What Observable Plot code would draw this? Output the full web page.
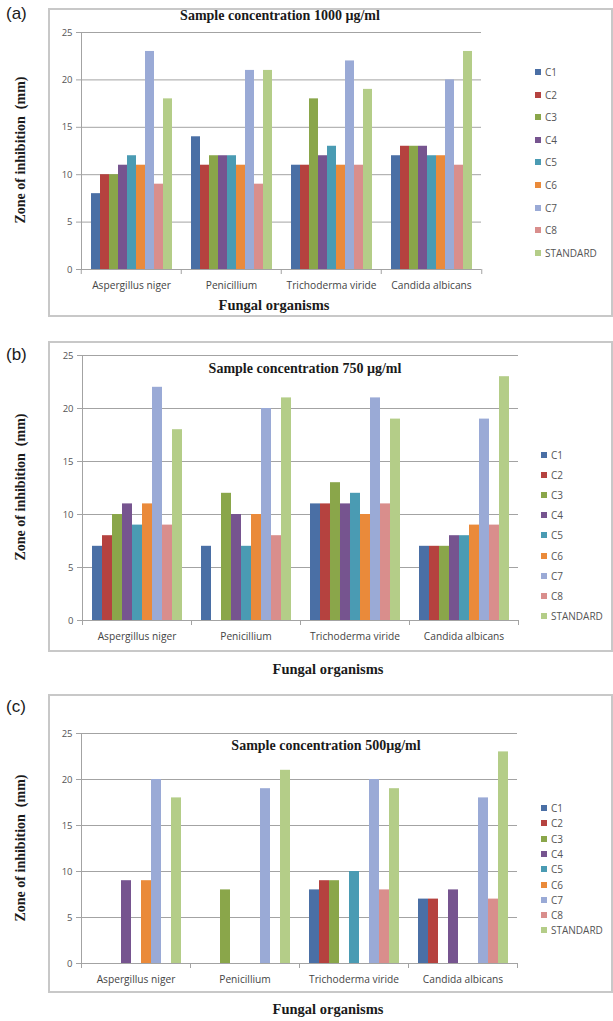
<!DOCTYPE html>
<html><head><meta charset="utf-8">
<script src="https://cdn.jsdelivr.net/npm/d3@7"></script>
<script src="https://cdn.jsdelivr.net/npm/@observablehq/plot@0.6"></script>
<style>
html,body{margin:0;padding:0;background:#fff}
body{width:613px;height:1021px;position:relative;overflow:hidden}
.box{position:absolute;border:2px solid #c8c8c8;box-sizing:border-box}
.plot{position:absolute;left:0}
.plabel{position:absolute;font-family:"Liberation Sans",Arial,sans-serif;font-size:17px;color:#1a1a1a;transform:translate(0,-50%)}
.title{position:absolute;font-family:"Liberation Serif",serif;font-weight:bold;font-size:14px;color:#1a1a1a;white-space:nowrap;transform:translate(-50%,-50%)}
.xtitle{position:absolute;font-family:"Liberation Serif",serif;font-weight:bold;font-size:14.5px;color:#1a1a1a;white-space:nowrap;transform:translate(-50%,-50%)}
.ytitle{position:absolute;font-family:"Liberation Serif",serif;font-weight:bold;font-size:14px;color:#1a1a1a;white-space:pre;transform:translate(-50%,-50%) rotate(-90deg)}
.leg{position:absolute;font-family:"Open Sans",sans-serif;font-size:10px;color:#555;white-space:nowrap;transform:translate(0,-50%);display:flex;align-items:center}
.sw{display:inline-block;width:6px;height:6px;margin-right:4px}
</style></head>
<body>
<script>
const organisms = ["Aspergillus niger", "Penicillium", "Trichoderma viride", "Candida albicans"];
const compounds = ["C1", "C2", "C3", "C4", "C5", "C6", "C7", "C8", "STANDARD"];
const colors = ["#4a6fa5", "#b5423f", "#8aa64a", "#76548f", "#4a9bb3", "#ea8a3a", "#9aaad6", "#d98e8c", "#b4cd88"];
const yTicks = [0, 5, 10, 15, 20, 25];

// Zone of inhibition (mm), rows = organisms, columns = compounds (null = no bar)
const zone1000 = [
  [8, 10, 10, 11, 12, 11, 23, 9, 18],
  [14, 11, 12, 12, 12, 11, 21, 9, 21],
  [11, 11, 18, 12, 13, 11, 22, 11, 19],
  [12, 13, 13, 13, 12, 12, 20, 11, 23]
];
const zone750 = [
  [7, 8, 10, 11, 9, 11, 22, 9, 18],
  [7, null, 12, 10, 7, 10, 20, 8, 21],
  [11, 11, 13, 11, 12, 10, 21, 11, 19],
  [7, 7, 7, 8, 8, 9, 19, 9, 23]
];
const zone500 = [
  [null, null, null, 9, null, 9, 20, null, 18],
  [null, null, 8, null, null, null, 19, null, 21],
  [8, 9, 9, null, 10, null, 20, 8, 19],
  [7, 7, null, 8, null, null, 18, 7, 23]
];

const panels = [
  {label: "(a)", labelY: 14, title: "Sample concentration 1000 µg/ml", titleX: 280, titleY: 16,
   values: zone1000, boxTop: 8, boxBottom: 317, x0: 80, x1: 482, y25: 32, y0: 269, pad: 0.79,
   xtitleX: 274, xtitleY: 305, ytitleY: 150, legX: 535, legY: 72, legStep: 22.6},
  {label: "(b)", labelY: 355, title: "Sample concentration 750 µg/ml", titleX: 305, titleY: 369,
   values: zone750, boxTop: 341, boxBottom: 652, x0: 82, x1: 518, y25: 355, y0: 620, pad: 0.78,
   xtitleX: 328, xtitleY: 669, ytitleY: 487, legX: 541, legY: 455, legStep: 20.1},
  {label: "(c)", labelY: 707, title: "Sample concentration 500µg/ml", titleX: 326, titleY: 746,
   values: zone500, boxTop: 694, boxBottom: 993, x0: 81, x1: 517, y25: 733, y0: 963, pad: 0.85,
   xtitleX: 328, xtitleY: 1009, ytitleY: 848, legX: 541, legY: 808, legStep: 15.3}
];

function el(cls, text, left, top) {
  const d = document.createElement("div");
  d.className = cls;
  if (text != null) d.textContent = text;
  d.style.left = left + "px";
  d.style.top = top + "px";
  document.body.appendChild(d);
  return d;
}

for (const p of panels) {
  const box = el("box", null, 48, p.boxTop);
  box.style.width = (613 - 48) + "px";
  box.style.height = (p.boxBottom - p.boxTop) + "px";

  const data = [];
  organisms.forEach((o, i) => compounds.forEach((c, j) => {
    const v = p.values[i][j];
    if (v != null) data.push({organism: o, compound: c, value: v});
  }));

  const H = p.boxBottom - p.boxTop;
  const step = (p.x1 - p.x0) / organisms.length;
  const chart = Plot.plot({
    width: 613,
    height: H,
    marginLeft: p.x0,
    marginRight: 613 - p.x1,
    marginTop: p.y25 - p.boxTop,
    marginBottom: H - (p.y0 - p.boxTop),
    style: {background: "transparent", fontFamily: "'Open Sans', sans-serif", overflow: "visible"},
    fx: {domain: organisms, padding: 0, label: null},
    x: {domain: compounds, paddingInner: 0, paddingOuter: p.pad, axis: null},
    y: {domain: [0, 25], label: null},
    color: {domain: compounds, range: colors},
    marks: [
      Plot.gridY({ticks: yTicks, stroke: "#a3a3a3", strokeOpacity: 1, strokeWidth: 1}),
      Plot.barY(data, {fx: "organism", x: "compound", y: "value", fill: "compound"}),
      Plot.frame({anchor: "left", facetAnchor: "left", stroke: "#a3a3a3"}),
      Plot.ruleY([0], {stroke: "#a3a3a3"}),
      Plot.axisY({ticks: yTicks, tickSize: 5, tickPadding: 4, label: null, stroke: "#a3a3a3", fill: "#555", fontSize: 9.5}),
      Plot.axisFx({anchor: "bottom", tickSize: 0, tickPadding: 12, label: null, fill: "#444", fontSize: 10.2}),
      Plot.axisFx({anchor: "bottom", tickSize: 5, tickFormat: () => "", label: null, dx: -step / 2, stroke: "#a3a3a3"}),
      Plot.axisFx({anchor: "bottom", ticks: [organisms[organisms.length - 1]], tickSize: 5, tickFormat: () => "", label: null, dx: step / 2, stroke: "#a3a3a3"})
    ]
  });
  chart.classList.add("plot");
  chart.style.position = "absolute";
  chart.style.left = "0px";
  chart.style.top = p.boxTop + "px";
  document.body.appendChild(chart);

  el("plabel", p.label, 6, p.labelY);
  el("title", p.title, p.titleX, p.titleY);
  el("xtitle", "Fungal organisms", p.xtitleX, p.xtitleY);
  el("ytitle", "Zone of inhibition  (mm)", 21, p.ytitleY);

  compounds.forEach((c, j) => {
    const d = el("leg", null, p.legX, p.legY + j * p.legStep);
    const s = document.createElement("span");
    s.className = "sw";
    s.style.background = colors[j];
    d.appendChild(s);
    d.appendChild(document.createTextNode(c));
  });
}
</script>
</body></html>
